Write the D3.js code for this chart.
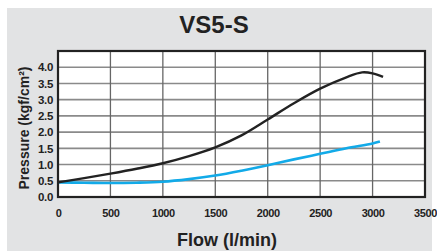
<!DOCTYPE html>
<html><head><meta charset="utf-8">
<script src="https://cdn.jsdelivr.net/npm/d3@7"></script>
<style>html,body{margin:0;padding:0;background:#fff;}svg{display:block;}</style>
</head><body>
<svg id="c" width="437" height="251"></svg>
<script>
const title = "VS5-S";
const xTicks = [0, 500, 1000, 1500, 2000, 2500, 3000, 3500];
const yTicks = [0.0, 0.5, 1.0, 1.5, 2.0, 2.5, 3.0, 3.5, 4.0];
const blackFlow = [0, 250, 500, 750, 1000, 1250, 1500, 1750, 2000, 2250, 2500, 2750, 2900, 3000, 3100];
const blackPressure = [0.45, 0.58, 0.72, 0.87, 1.04, 1.26, 1.53, 1.90, 2.39, 2.89, 3.34, 3.69, 3.84, 3.81, 3.70];
const blueFlow = [0, 250, 500, 750, 1000, 1250, 1500, 1750, 2000, 2250, 2500, 2750, 3000, 3070];
const bluePressure = [0.45, 0.44, 0.43, 0.44, 0.47, 0.55, 0.66, 0.81, 0.98, 1.16, 1.33, 1.50, 1.65, 1.71];

const svg = d3.select("#c");
svg.append("rect").attr("x", 7).attr("y", 8).attr("width", 425).attr("height", 243).attr("fill", "#e2e3e4");

const L = 58, R = 425, T = 51, B = 197;
const x = d3.scaleLinear().domain([0, 3500]).range([L, R]);
const y = d3.scaleLinear().domain([0, 4.5]).range([B, T]);

svg.append("rect").attr("x", L).attr("y", T).attr("width", R - L).attr("height", B - T).attr("fill", "#fff");

const hg = svg.append("g").attr("class","grid");
hg.selectAll("line.h").data(yTicks.concat([4.5])).join("line")
  .attr("x1", L).attr("x2", R).attr("y1", d => y(d)).attr("y2", d => y(d))
  .attr("stroke", "#8a8a8a").attr("stroke-width", 1.6);
hg.selectAll("line.v").data(xTicks).join("line")
  .attr("x1", d => x(d)).attr("x2", d => x(d)).attr("y1", T).attr("y2", B)
  .attr("stroke", "#666").attr("stroke-width", 1.3);

const xAxis = d3.axisBottom(x).tickValues(xTicks).tickSize(0).tickPadding(12).tickFormat(d3.format("d"));
const gx = svg.append("g").attr("transform", `translate(0,${B})`).call(xAxis);
gx.select(".domain").remove();
gx.selectAll("text").attr("font-family", "Liberation Sans, Arial, sans-serif").attr("font-size", 11).attr("font-weight", "bold").attr("fill", "#222")
  .style("letter-spacing", "-0.4px");

const yAxis = d3.axisLeft(y).tickValues(yTicks).tickSize(0).tickPadding(5).tickFormat(d3.format(".1f"));
const gy = svg.append("g").attr("transform", `translate(${L},0)`).call(yAxis);
gy.select(".domain").remove();
gy.selectAll("text").attr("font-family", "Liberation Sans, Arial, sans-serif").attr("font-size", 11.5).attr("font-weight", "bold").attr("fill", "#222").style("letter-spacing", "-0.3px");

const line = d3.line().x(d => x(d[0])).y(d => y(d[1])).curve(d3.curveCatmullRom.alpha(0.5));
svg.append("path").datum(blueFlow.map((f, i) => [f, bluePressure[i]]))
  .attr("d", line).attr("fill", "none").attr("stroke", "#12aae8").attr("stroke-width", 2.6);
svg.append("path").datum(blackFlow.map((f, i) => [f, blackPressure[i]]))
  .attr("d", line).attr("fill", "none").attr("stroke", "#222").attr("stroke-width", 2.4);

svg.append("rect").attr("x", L).attr("y", T).attr("width", R - L).attr("height", B - T)
  .attr("fill", "none").attr("stroke", "#222").attr("stroke-width", 2.2);

svg.append("text").attr("x", 214).attr("y", 33).attr("text-anchor", "middle")
  .attr("font-family", "Liberation Sans, Arial, sans-serif").attr("font-weight", "bold").attr("font-size", 24).attr("fill", "#222").text(title);
svg.append("text").attr("x", 227).attr("y", 246).attr("text-anchor", "middle")
  .attr("font-family", "Liberation Sans, Arial, sans-serif").attr("font-weight", "bold").attr("font-size", 18).attr("fill", "#222").text("Flow (l/min)");
svg.append("text").attr("transform", "translate(29,128) rotate(-90)").attr("text-anchor", "middle")
  .attr("font-family", "Liberation Sans, Arial, sans-serif").attr("font-weight", "bold").attr("font-size", 14).attr("fill", "#222")
  .text("Pressure (kgf/cm²)");
</script>
</body></html>
